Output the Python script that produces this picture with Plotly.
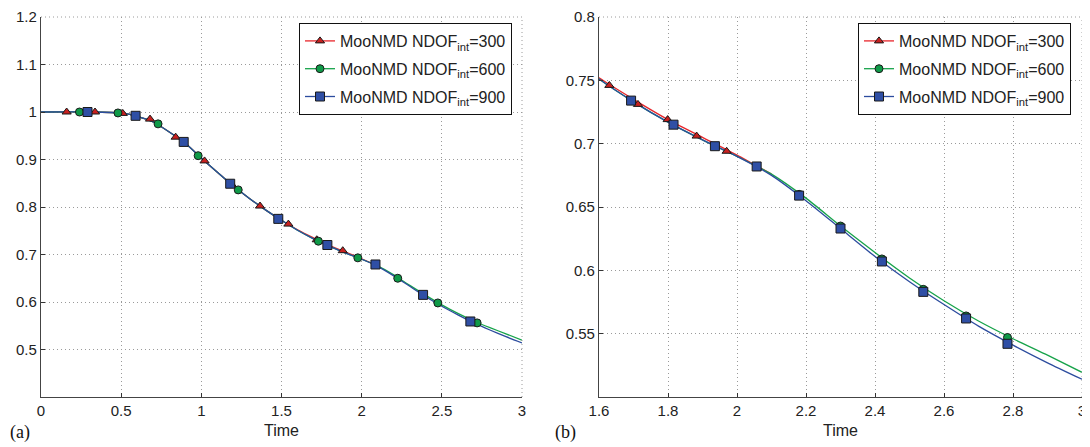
import plotly.graph_objects as go
from plotly.subplots import make_subplots

# ---------------- data ----------------
series_names = ["MooNMD NDOF<sub>int</sub>=300",
                "MooNMD NDOF<sub>int</sub>=600",
                "MooNMD NDOF<sub>int</sub>=900"]

# curves (time, value)
t_900 = [0, 0.3, 0.5, 0.6, 0.7, 0.8, 0.9, 1.0, 1.1, 1.2, 1.3, 1.4, 1.5, 1.6, 1.7, 1.8,
         1.9, 2.0, 2.1, 2.2, 2.3, 2.4, 2.5, 2.6, 2.7, 2.8, 2.9, 3.0]
v_900 = [1.000, 1.000, 0.998, 0.991, 0.979, 0.958, 0.934, 0.903, 0.873, 0.844, 0.818,
         0.794, 0.772, 0.751, 0.733, 0.717, 0.703, 0.690, 0.675, 0.655, 0.633, 0.611,
         0.591, 0.573, 0.556, 0.541, 0.527, 0.514]

t_600 = [0, 0.3, 0.5, 0.6, 0.7, 0.8, 0.9, 1.0, 1.1, 1.2, 1.3, 1.4, 1.5, 1.6, 1.7, 1.8,
         1.9, 2.0, 2.1, 2.2, 2.3, 2.4, 2.5, 2.6, 2.7, 2.8, 2.9, 3.0]
v_600 = [1.000, 1.000, 0.998, 0.991, 0.979, 0.958, 0.934, 0.903, 0.873, 0.844, 0.818,
         0.794, 0.772, 0.751, 0.733, 0.717, 0.703, 0.690, 0.676, 0.657, 0.635, 0.614,
         0.594, 0.576, 0.560, 0.546, 0.533, 0.5195]

t_300 = [0, 0.3, 0.5, 0.6, 0.7, 0.8, 0.9, 1.0, 1.1, 1.2, 1.3, 1.4, 1.5, 1.6, 1.7, 1.8,
         1.9, 2.0, 2.1]
v_300 = [1.000, 1.000, 0.998, 0.991, 0.979, 0.958, 0.934, 0.903, 0.873, 0.844, 0.818,
         0.794, 0.772, 0.752, 0.735, 0.719, 0.705, 0.691, 0.676]

# markers, panel (a)
mk_a_300_t = [0.16, 0.337, 0.51, 0.68, 0.84, 1.02, 1.19, 1.366, 1.543, 1.72, 1.882]
mk_a_300_v = [1.000, 1.000, 0.997, 0.985, 0.947, 0.897, 0.847, 0.802, 0.764, 0.731, 0.708]
mk_a_600_t = [0.24, 0.48, 0.73, 0.98, 1.23, 1.48, 1.73, 1.976, 2.225, 2.475, 2.72]
mk_a_600_v = [1.000, 0.998, 0.975, 0.908, 0.836, 0.775, 0.728, 0.693, 0.650, 0.598, 0.556]
mk_a_900_t = [0.29, 0.59, 0.89, 1.18, 1.48, 1.786, 2.086, 2.383, 2.678]
mk_a_900_v = [1.000, 0.992, 0.937, 0.849, 0.775, 0.720, 0.679, 0.615, 0.559]

# markers, panel (b)
mk_b_300_t = [1.63, 1.713, 1.799, 1.883, 1.97]
mk_b_300_v = [0.746, 0.731, 0.719, 0.706, 0.694]
mk_b_600_t = [2.18, 2.30, 2.42, 2.54, 2.664, 2.784]
mk_b_600_v = [0.660, 0.635, 0.609, 0.585, 0.564, 0.547]
mk_b_900_t = [1.693, 1.816, 1.936, 2.057, 2.18, 2.30, 2.42, 2.54, 2.664, 2.784]
mk_b_900_v = [0.734, 0.715, 0.698, 0.682, 0.659, 0.633, 0.607, 0.583, 0.562, 0.542]

xticks_a = [0, 0.5, 1, 1.5, 2, 2.5, 3]
xticklabels_a = ["0", "0.5", "1", "1.5", "2", "2.5", "3"]
yticks_a = [0.5, 0.6, 0.7, 0.8, 0.9, 1.0, 1.1, 1.2]
yticklabels_a = ["0.5", "0.6", "0.7", "0.8", "0.9", "1", "1.1", "1.2"]
xticks_b = [1.6, 1.8, 2.0, 2.2, 2.4, 2.6, 2.8, 3.0]
xticklabels_b = ["1.6", "1.8", "2", "2.2", "2.4", "2.6", "2.8", "3"]
yticks_b = [0.55, 0.6, 0.65, 0.7, 0.75, 0.8]
yticklabels_b = ["0.55", "0.6", "0.65", "0.7", "0.75", "0.8"]
x_title = "Time"
panel_labels = ["(a)", "(b)"]

# ---------------- style ----------------
line_colors = ["#e8262b", "#17a34a", "#2c4c9e"]
marker_fill = ["#c8201f", "#0f9a48", "#2f4fa5"]
marker_symbols = ["triangle-up", "circle", "square"]
marker_sizes = [8, 8, 9]
FONT = "Liberation Sans, Arial, sans-serif"
GRID = "#9a9a9a"

fig = make_subplots(rows=1, cols=2)

lines = [(t_300, v_300), (t_600, v_600), (t_900, v_900)]
marks_a = [(mk_a_300_t, mk_a_300_v), (mk_a_600_t, mk_a_600_v), (mk_a_900_t, mk_a_900_v)]
marks_b = [(mk_b_300_t, mk_b_300_v), (mk_b_600_t, mk_b_600_v), (mk_b_900_t, mk_b_900_v)]

for col, marks, leg in [(1, marks_a, "legend"), (2, marks_b, "legend2")]:
    for i in range(3):
        fig.add_trace(go.Scatter(x=lines[i][0], y=lines[i][1], mode="lines",
                                 line=dict(color=line_colors[i], width=1.3, shape="spline", smoothing=0.6),
                                 showlegend=False, hoverinfo="skip"), row=1, col=col)
    for i in range(3):
        fig.add_trace(go.Scatter(x=marks[i][0], y=marks[i][1], mode="markers",
                                 marker=dict(symbol=marker_symbols[i], size=marker_sizes[i],
                                             color=marker_fill[i],
                                             line=dict(color="#1a1a1a", width=1)),
                                 showlegend=False, hoverinfo="skip"), row=1, col=col)
    for i in range(3):
        fig.add_trace(go.Scatter(x=[None], y=[None], mode="lines+markers", name=series_names[i],
                                 line=dict(color=line_colors[i], width=1.3),
                                 marker=dict(symbol=marker_symbols[i], size=marker_sizes[i],
                                             color=marker_fill[i],
                                             line=dict(color="#1a1a1a", width=1)),
                                 legendgroup=f"{leg}_{i}",
                                 showlegend=True, legend=leg), row=1, col=col)

# The page body has an 8px margin: work in reference pixels and subtract it.
OFF = 8
W, H = 1090 - OFF, 447 - OFF


def px_x(x):
    return (x - OFF) / W


def px_y(y):
    return 1 - (y - OFF) / H


xa = [px_x(41), px_x(522)]
xb = [px_x(599), px_x(1082)]
yd = [px_y(397), px_y(17)]

axis_common = dict(showgrid=True, gridcolor=GRID, griddash="1px,3px", gridwidth=1,
                   showline=True, linecolor="#444444", linewidth=1.3, ticks="inside",
                   ticklen=4, tickcolor="#333333", zeroline=False, mirror=False,
                   tickfont=dict(family=FONT, size=15, color="#222222"), automargin=False)

legend_common = dict(xanchor="right", yanchor="top",
                     bordercolor="#111111", borderwidth=1, bgcolor="white",
                     font=dict(family=FONT, size=16, color="#222222"),
                     tracegroupgap=4, itemwidth=30)

fig.update_layout(
    width=W, height=H, margin=dict(l=0, r=0, t=0, b=0),
    paper_bgcolor="white", plot_bgcolor="white",
    font=dict(family=FONT, size=15, color="#222222"),
    xaxis=dict(domain=xa, range=[0, 3], tickvals=xticks_a, ticktext=xticklabels_a, **axis_common),
    yaxis=dict(domain=yd, range=[0.4, 1.2], tickvals=yticks_a, ticktext=yticklabels_a, **axis_common),
    xaxis2=dict(domain=xb, range=[1.6, 3.0], tickvals=xticks_b, ticktext=xticklabels_b, **axis_common),
    yaxis2=dict(domain=yd, range=[0.5, 0.8], tickvals=yticks_b, ticktext=yticklabels_b, **axis_common),
    legend=dict(x=px_x(512), y=px_y(23), **legend_common),
    legend2=dict(x=px_x(1071), y=px_y(23), **legend_common),
)

# dotted top/right borders
for xr, yr in [("x domain", "y domain"), ("x2 domain", "y2 domain")]:
    fig.add_shape(type="line", xref=xr, yref=yr, x0=0, x1=1, y0=1, y1=1,
                  line=dict(color=GRID, width=1, dash="1px,3px"))
    fig.add_shape(type="line", xref=xr, yref=yr, x0=1, x1=1, y0=0, y1=1,
                  line=dict(color=GRID, width=1, dash="1px,3px"))

# axis titles
for xd in [xa, xb]:
    fig.add_annotation(text=x_title, xref="paper", yref="paper", x=(xd[0] + xd[1]) / 2,
                       y=px_y(430), xanchor="center", yanchor="middle", showarrow=False,
                       font=dict(family=FONT, size=16, color="#222222"))

fig.add_annotation(text=panel_labels[0], xref="paper", yref="paper", x=0, y=px_y(432),
                   xanchor="left", yanchor="middle", showarrow=False,
                   font=dict(family="Liberation Serif, Times New Roman, serif", size=18, color="#111111"))
fig.add_annotation(text=panel_labels[1], xref="paper", yref="paper", x=px_x(553), y=px_y(432),
                   xanchor="left", yanchor="middle", showarrow=False,
                   font=dict(family="Liberation Serif, Times New Roman, serif", size=18, color="#111111"))

fig.write_html("out.html")
